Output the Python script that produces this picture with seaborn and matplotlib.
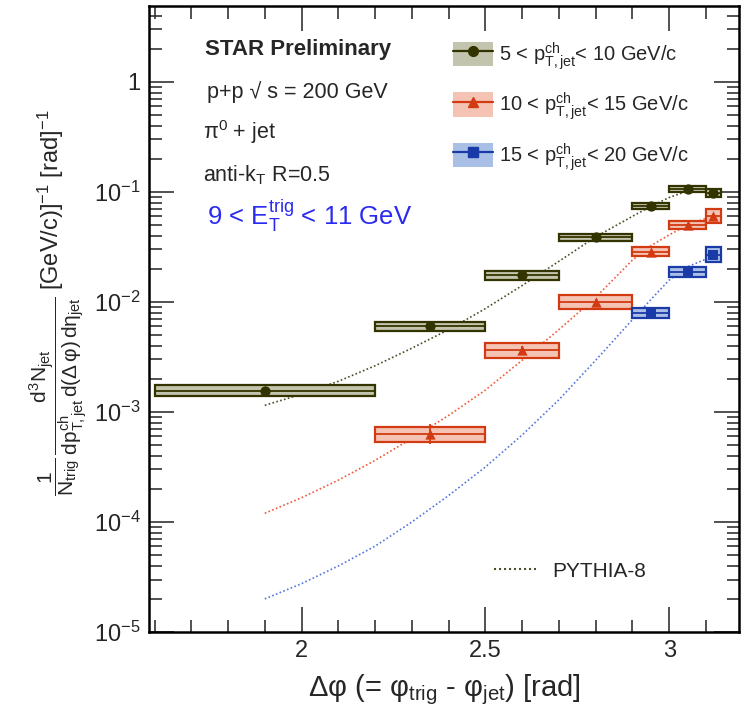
import numpy as np
import pandas as pd
import matplotlib
matplotlib.use("Agg")
import matplotlib.pyplot as plt
from matplotlib.patches import Rectangle, Patch
from matplotlib.lines import Line2D
from matplotlib.ticker import FixedLocator, FuncFormatter, LogLocator, NullFormatter
import seaborn as sns

# ---------------- data ----------------
# Delta-phi bin edges and centres for each jet pT class
black_lo = [1.6, 2.2, 2.5, 2.7, 2.9, 3.0, 3.1]
black_hi = [2.2, 2.5, 2.7, 2.9, 3.0, 3.1, np.pi]
black_x = [1.9, 2.35, 2.6, 2.8, 2.95, 3.05, 3.12]
black_y = [1.56e-3, 6.0e-3, 1.75e-2, 3.87e-2, 7.4e-2, 1.07e-1, 9.7e-2]
black_sys = [0.12, 0.10, 0.10, 0.076, 0.064, 0.064, 0.086]
black_stat = [0.03, 0.03, 0.03, 0.02, 0.02, 0.02, 0.03]

red_lo = [2.2, 2.5, 2.7, 2.9, 3.0, 3.1]
red_hi = [2.5, 2.7, 2.9, 3.0, 3.1, np.pi]
red_x = [2.35, 2.6, 2.8, 2.95, 3.05, 3.12]
red_y = [6.3e-4, 3.64e-3, 1.0e-2, 2.86e-2, 5.0e-2, 6.05e-2]
red_sys = [0.17, 0.17, 0.16, 0.10, 0.086, 0.16]
red_stat = [0.23, 0.10, 0.06, 0.04, 0.03, 0.05]

blue_lo = [2.9, 3.0, 3.1]
blue_hi = [3.0, 3.1, np.pi]
blue_x = [2.95, 3.05, 3.12]
blue_y = [8.0e-3, 1.86e-2, 2.68e-2]
blue_sys = [0.11, 0.11, 0.17]
blue_stat = [0.06, 0.05, 0.06]

# PYTHIA-8 predictions
pythia_x = [1.9, 2.0, 2.1, 2.2, 2.3, 2.4, 2.5, 2.6, 2.7, 2.8, 2.9, 2.95, 3.0, 3.05, 3.1]
pythia_black = [1.15e-3, 1.45e-3, 1.9e-3, 2.63e-3, 3.8e-3, 5.6e-3, 8.7e-3, 1.41e-2,
                2.34e-2, 3.9e-2, 6.0e-2, 7.4e-2, 8.9e-2, 1.02e-1, 1.05e-1]
pythia_red = [1.2e-4, 1.66e-4, 2.4e-4, 3.63e-4, 5.75e-4, 9.3e-4, 1.58e-3, 2.95e-3,
              5.6e-3, 1.1e-2, 2.4e-2, 3.24e-2, 4.07e-2, 5.0e-2, 5.75e-2]
pythia_blue = [2.0e-5, 2.75e-5, 3.98e-5, 6.03e-5, 1.0e-4, 1.74e-4, 3.16e-4, 6.17e-4,
               1.29e-3, 2.95e-3, 6.9e-3, 1.05e-2, 1.58e-2, 2.09e-2, 2.45e-2]

labels = [r"5 < p$_{T,jet}^{ch}$< 10 GeV/c",
          r"10 < p$_{T,jet}^{ch}$< 15 GeV/c",
          r"15 < p$_{T,jet}^{ch}$< 20 GeV/c"]

# ---------------- style ----------------
sns.set_theme(style="ticks")
plt.rcParams["font.family"] = ["Liberation Sans", "DejaVu Sans"]
plt.rcParams["mathtext.fontset"] = "custom"
plt.rcParams["mathtext.rm"] = "Liberation Sans"
plt.rcParams["mathtext.it"] = "Liberation Sans"
plt.rcParams["mathtext.sf"] = "Liberation Sans"
plt.rcParams["mathtext.bf"] = "Liberation Sans:bold"
plt.rcParams["mathtext.default"] = "rm"
plt.rcParams["mathtext.fallback"] = "stixsans"

line_cols = ["#333300", "#d23a12", "#1a3aa8"]
fill_cols = ["#c3c4ae", "#f5c3b4", "#aabfe6"]
curve_cols = ["#4d4d2a", "#ee5a3a", "#5577dd"]
markers = ["o", "^", "s"]

fig = plt.figure(figsize=(7.44, 7.2), dpi=100)
ax = fig.add_axes([149 / 744, 1 - 632 / 720, 590 / 744, 626 / 720])
ax.set_yscale("log")
ax.set_xlim(1.585, 3.19)
ax.set_ylim(1e-5, 4.9)

# PYTHIA curves
pyth = pd.DataFrame({
    "dphi": pythia_x * 3,
    "val": pythia_black + pythia_red + pythia_blue,
    "cls": ["a"] * len(pythia_x) + ["b"] * len(pythia_x) + ["c"] * len(pythia_x),
})
sns.lineplot(data=pyth, x="dphi", y="val", hue="cls", palette=curve_cols,
             linestyle=(0, (1, 1.4)), linewidth=1.2, legend=False, ax=ax, zorder=2)

series = [
    (black_lo, black_hi, black_x, black_y, black_sys, black_stat),
    (red_lo, red_hi, red_x, red_y, red_sys, red_stat),
    (blue_lo, blue_hi, blue_x, blue_y, blue_sys, blue_stat),
]
for i, (lo, hi, xs, ys, sy, st) in enumerate(series):
    for l, h, x, y, s in zip(lo, hi, xs, ys, sy):
        ylo, yhi = y / (1 + s), y * (1 + s)
        ax.add_patch(Rectangle((l, ylo), h - l, yhi - ylo, facecolor=fill_cols[i],
                               edgecolor=line_cols[i], linewidth=1.6, zorder=3))
        ax.hlines(y, l, h, color=line_cols[i], linewidth=1.3, zorder=4)
    ys_a = np.array(ys)
    st_a = np.array(st)
    ax.errorbar(xs, ys, yerr=[ys_a - ys_a / (1 + st_a), ys_a * st_a], fmt="none",
                ecolor=line_cols[i], elinewidth=1.3, capsize=0, zorder=5)
    df = pd.DataFrame({"x": xs, "y": ys})
    sns.scatterplot(data=df, x="x", y="y", marker=markers[i], color=line_cols[i],
                    s=55, edgecolor=line_cols[i], linewidth=0, ax=ax, zorder=6)

# ---------------- axes ----------------
ax.xaxis.set_major_locator(FixedLocator([2.0, 2.5, 3.0]))
ax.xaxis.set_minor_locator(FixedLocator(np.round(np.arange(1.6, 3.2, 0.1), 2)))
ax.xaxis.set_major_formatter(FuncFormatter(lambda v, p: f"{v:g}"))
ax.yaxis.set_major_locator(LogLocator(base=10, numticks=20))
ax.yaxis.set_minor_locator(LogLocator(base=10, subs=np.arange(2, 10), numticks=20))
ax.yaxis.set_minor_formatter(NullFormatter())


def log_fmt(v, pos):
    e = int(round(np.log10(v)))
    return "1" if e == 0 else rf"10$^{{{e}}}$"


ax.yaxis.set_major_formatter(FuncFormatter(log_fmt))
ax.tick_params(which="both", direction="in", top=True, right=True, width=1.2,
               color="#333333", labelsize=17)
ax.tick_params(which="major", length=18, pad=6)
ax.tick_params(which="minor", length=9)
for sp in ax.spines.values():
    sp.set_linewidth(1.8)
    sp.set_color("black")

ax.set_xlabel(r"$\Delta\varphi$ (= $\varphi_{trig}$ - $\varphi_{jet}$) [rad]", fontsize=21)
ax.xaxis.set_label_coords(0.5, -0.065)
ax.set_ylabel(r"$\dfrac{1}{N_{trig}}\,\dfrac{d^{3}N_{jet}}"
              r"{dp^{ch}_{T,jet}\,d(\Delta\,\varphi)\,d\eta_{jet}}$", fontsize=15)
ax.yaxis.set_label_coords(-0.102, 0.377)
fig.text(51 / 744, 1 - 290 / 720, r"[GeV/c)]$^{-1}$ [rad]$^{-1}$", rotation=90,
         ha="center", va="bottom", fontsize=17)

# ---------------- annotations ----------------
ax.text(0.095, 0.930, "STAR Preliminary", transform=ax.transAxes, fontsize=16,
        fontweight="bold", va="center", ha="left")
ax.text(0.098, 0.863, "p+p \u221a s = 200 GeV", transform=ax.transAxes, fontsize=15.5,
        va="center", ha="left")
ax.text(0.0915, 0.799, r"$\pi^{0}$ + jet", transform=ax.transAxes, fontsize=15.5,
        va="center", ha="left")
ax.text(0.0915, 0.730, r"anti-k$_{T}$ R=0.5", transform=ax.transAxes, fontsize=15.5,
        va="center", ha="left")
ax.text(0.098, 0.665, r"9 < E$_{T}^{trig}$ < 11 GeV", transform=ax.transAxes,
        fontsize=18.5, color="#2a2af0", va="center", ha="left")

handles = [(Patch(facecolor=fill_cols[i], edgecolor="none"),
            Line2D([], [], color=line_cols[i], marker=markers[i], markersize=7, linewidth=1.6))
           for i in range(3)]
leg = ax.legend(handles, labels, loc="upper left", bbox_to_anchor=(0.515, 0.946),
                frameon=False, fontsize=14.5, handlelength=2.0, handleheight=1.5,
                labelspacing=0.92, handletextpad=0.3, borderpad=0, borderaxespad=0)
ax.add_artist(leg)

pyth_handle = Line2D([], [], color=curve_cols[0], linestyle=(0, (1, 1.4)), linewidth=1.5)
ax.legend([pyth_handle], ["PYTHIA-8"], loc="center left", bbox_to_anchor=(0.585, 0.097),
          frameon=False, fontsize=15, handlelength=2.0, handletextpad=0.8,
          borderpad=0, borderaxespad=0)

fig.savefig("out.png", dpi=100)
